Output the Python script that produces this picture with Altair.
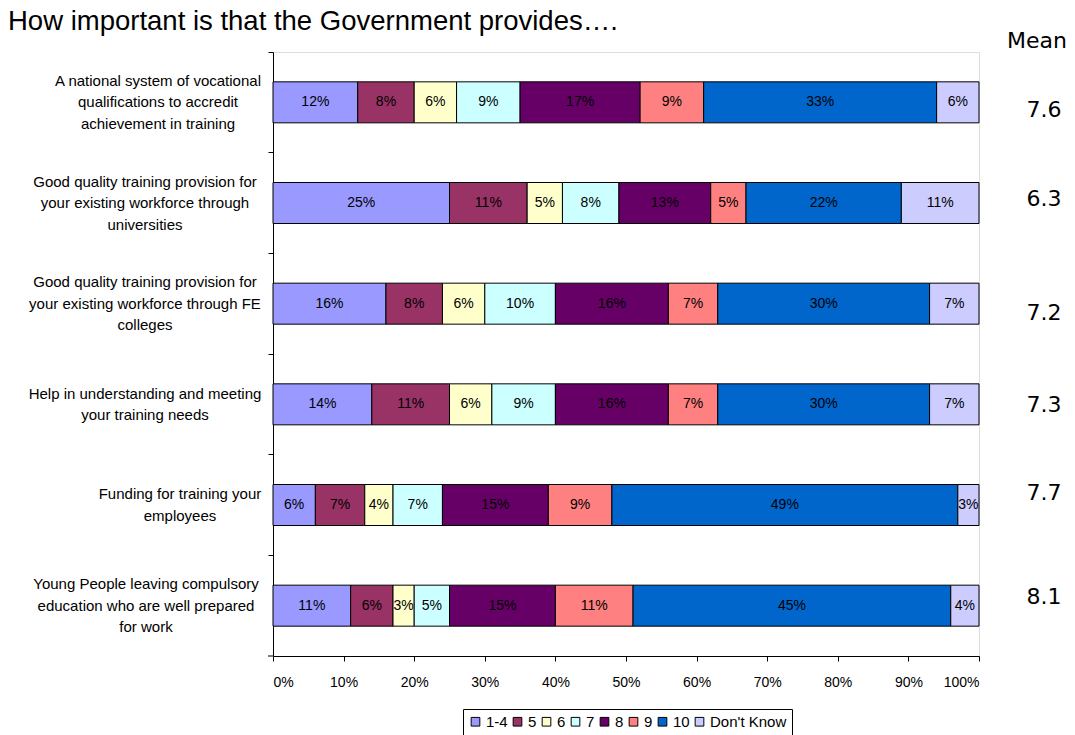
import altair as alt
import pandas as pd

# ---------------- data ----------------
question_ids = ["q1", "q2", "q3", "q4", "q5", "q6"]
question_labels = [
    "A national system of vocational|qualifications to accredit|achievement in training",
    "Good quality training provision for|your existing workforce through|universities",
    "Good quality training provision for|your existing workforce through FE|colleges",
    "Help in understanding and meeting|your training needs",
    "Funding for training your|employees",
    "Young People leaving compulsory|education who are well prepared|for work",
]
categories = ["1-4", "5", "6", "7", "8", "9", "10", "Don't Know"]
v_1_4 = [12, 25, 16, 14, 6, 11]
v_5 = [8, 11, 8, 11, 7, 6]
v_6 = [6, 5, 6, 6, 4, 3]
v_7 = [9, 8, 10, 9, 7, 5]
v_8 = [17, 13, 16, 16, 15, 15]
v_9 = [9, 5, 7, 7, 9, 11]
v_10 = [33, 22, 30, 30, 49, 45]
v_dk = [6, 11, 7, 7, 3, 4]
means = ["7.6", "6.3", "7.2", "7.3", "7.7", "8.1"]
x_ticks = [0, 0.1, 0.2, 0.3, 0.4, 0.5, 0.6, 0.7, 0.8, 0.9, 1.0]
title_text = "How important is that the Government provides…."

# ---------------- style ----------------
colors = ["#9999FF", "#993366", "#FFFFCC", "#CCFFFF", "#660066", "#FF8080", "#0066CC", "#CCCCFF"]
label_center_x = [-115, -128, -128, -128, -93, -127]   # pixel centre of each y-label block
mean_dy = [8, -4, 9, 1, -12, -9]                          # free-floating mean text boxes
W, H = 706, 604
LINE_H = 21.5
FONT = "Liberation Sans, Arial, sans-serif"

series = [v_1_4, v_5, v_6, v_7, v_8, v_9, v_10, v_dk]
rows = []
for ci, (cat, vals) in enumerate(zip(categories, series)):
    for qi, q in enumerate(question_ids):
        rows.append({"q": q, "cat": cat, "ci": ci, "v": vals[qi]})
df = pd.DataFrame(rows)

y_enc = alt.Y(
    "q:N",
    sort=question_ids,
    scale=alt.Scale(domain=question_ids, paddingInner=0, paddingOuter=0),
    axis=alt.Axis(labels=False, title=None, bandPosition=0, tickSize=5,
                  tickColor="black", domainColor="black", grid=False),
)

base = alt.Chart(df).transform_calculate(frac="datum.v / 100")

bars = base.mark_bar(size=41, stroke="black", strokeWidth=1).encode(
    x=alt.X("frac:Q", stack="zero",
            scale=alt.Scale(domain=[0, 1], nice=False),
            axis=alt.Axis(values=x_ticks, format=".0%", title=None, grid=False,
                          tickSize=5, tickColor="black", domainColor="black",
                          labelFont=FONT, labelFontSize=14, labelColor="black",
                          labelPadding=14)),
    y=y_enc,
    color=alt.Color("cat:N", sort=categories,
                    scale=alt.Scale(domain=categories, range=colors),
                    legend=alt.Legend(
                        title=None, orient="none", direction="horizontal",
                        legendX=190, legendY=657, columns=8,
                        symbolType="square", symbolSize=75,
                        symbolStrokeColor="black", symbolStrokeWidth=1,
                        labelFont=FONT, labelFontSize=15, labelColor="black",
                        labelOffset=3, columnPadding=2, padding=5,
                        strokeColor="black", fillColor="white")),
    order=alt.Order("ci:Q"),
)

seg_text = base.transform_window(
    cum="sum(frac)", groupby=["q"], sort=[alt.SortField("ci")], frame=[None, 0]
).transform_calculate(
    mid="datum.cum - datum.frac / 2", lab="datum.v + '%'"
).mark_text(font=FONT, fontSize=14, color="black",
            align="center", baseline="middle").encode(
    x=alt.X("mid:Q"),
    y=alt.Y("q:N", sort=question_ids),
    text="lab:N",
)

layers = [bars, seg_text]

# y-axis category labels (multi-line, centred lines)
for q, lab, lx in zip(question_ids, question_labels, label_center_x):
    n_lines = lab.count("|") + 1
    layers.append(
        alt.Chart(pd.DataFrame({"q": [q], "lab": [lab]})).mark_text(
            font=FONT, fontSize=15, lineBreak="|", lineHeight=LINE_H,
            align="center", baseline="middle", color="black",
            dy=-(n_lines - 1) * LINE_H / 2,
        ).encode(x=alt.value(lx), y=alt.Y("q:N", sort=question_ids), text="lab:N")
    )

# mean values
for q, m, dy in zip(question_ids, means, mean_dy):
    layers.append(
        alt.Chart(pd.DataFrame({"q": [q], "m": [m]})).mark_text(
            font="DejaVu Sans", fontSize=22, align="center", baseline="middle",
            color="black", dy=dy
        ).encode(x=alt.value(W + 65), y=alt.Y("q:N", sort=question_ids), text="m:N")
    )

mean_head = alt.Chart(pd.DataFrame({"t": ["Mean"]})).mark_text(
    font="DejaVu Sans", fontSize=22, align="center", baseline="middle", color="black"
).encode(x=alt.value(W + 58), y=alt.value(-11), text="t:N")

title_mark = alt.Chart(pd.DataFrame({"t": [title_text]})).mark_text(
    font=FONT, fontSize=27.5, align="left", baseline="alphabetic", color="black"
).encode(x=alt.value(-265), y=alt.value(-22), text="t:N")

bottom_tick = alt.Chart(pd.DataFrame({"a": [0]})).mark_rule(color="black").encode(
    x=alt.value(-5), x2=alt.value(0), y=alt.value(H)
)

layers += [mean_head, title_mark, bottom_tick]

chart = alt.layer(*layers).properties(
    width=W, height=H,
    autosize=alt.AutoSizeParams(type="none"),
    padding={"left": 273, "top": 52, "right": 96, "bottom": 79},
).configure_view(stroke=None).configure(background="white")

chart.save("out.html", embed_options={"renderer": "svg", "actions": False})
